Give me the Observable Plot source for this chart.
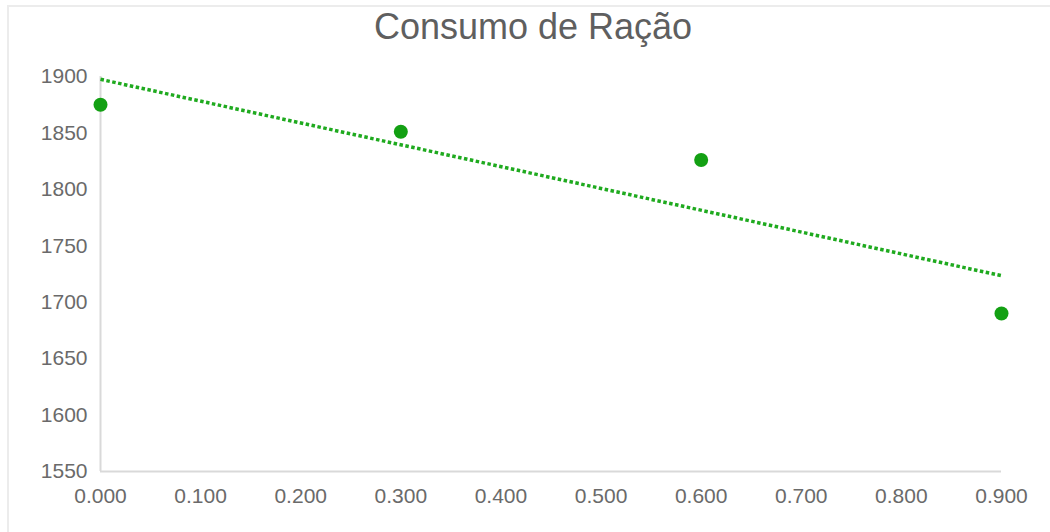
<!DOCTYPE html>
<html>
<head>
<meta charset="utf-8">
<script src="https://cdn.jsdelivr.net/npm/d3@7"></script>
<script src="https://cdn.jsdelivr.net/npm/@observablehq/plot@0.6"></script>
<style>
  body { margin: 0; background: #fff; }
  #wrap { position: relative; width: 1050px; height: 532px; overflow: hidden; background: #fff; }
  #frame { position: absolute; left: 7px; top: 5px; width: 1100px; height: 600px; border: 2px solid #ececec; box-sizing: border-box; }
  #title { position: absolute; left: 0; width: 1066px; top: 6px; text-align: center; font-family: "Liberation Sans", Arial, sans-serif; font-size: 36px; color: #5f5f5f; line-height: 42px; }
  #chart { position: absolute; left: 0; top: 50px; }
</style>
</head>
<body>
<div id="wrap">
  <div id="frame"></div>
  <div id="title">Consumo de Ração</div>
  <div id="chart"></div>
</div>
<script>
const doses = [0.0, 0.3, 0.6, 0.9];
const consumo = [1875, 1851, 1826, 1690];
const xTicks = [0, 0.1, 0.2, 0.3, 0.4, 0.5, 0.6, 0.7, 0.8, 0.9];
const yTicks = [1550, 1600, 1650, 1700, 1750, 1800, 1850, 1900];

const data = doses.map((d, i) => ({x: d, y: consumo[i]}));
const green = "#13a013";
const lineGreen = "#1faa1f";
const textColor = "#6a6a6a";

const plot = Plot.plot({
  width: 1050,
  height: 482,
  marginLeft: 100,
  marginRight: 49,
  marginTop: 26,
  marginBottom: 61,
  style: { fontFamily: "'Liberation Sans', Arial, sans-serif", fontSize: "21px", color: textColor, background: "transparent" },
  x: { domain: [0, 0.9], label: null },
  y: { domain: [1550, 1900], label: null },
  marks: [
    Plot.ruleX([0], { stroke: "#d9d9d9", strokeWidth: 2 }),
    Plot.ruleY([1550], { stroke: "#d9d9d9", strokeWidth: 2 }),
    Plot.axisX({ ticks: xTicks, tickFormat: d3.format(".3f"), tickSize: 0, tickPadding: 17, fill: textColor, fontSize: 21, label: null }),
    Plot.axisY({ ticks: yTicks, tickFormat: d3.format("d"), tickSize: 0, tickPadding: 13, fill: textColor, fontSize: 21, label: null }),
    Plot.linearRegressionY(data, { x: "x", y: "y", ci: 0, stroke: lineGreen, strokeWidth: 3.5, strokeDasharray: "3.5 2.5", strokeLinecap: "butt" }),
    Plot.dot(data, { x: "x", y: "y", r: 7, fill: green, stroke: "none" })
  ]
});
document.getElementById("chart").appendChild(plot);
</script>
</body>
</html>
